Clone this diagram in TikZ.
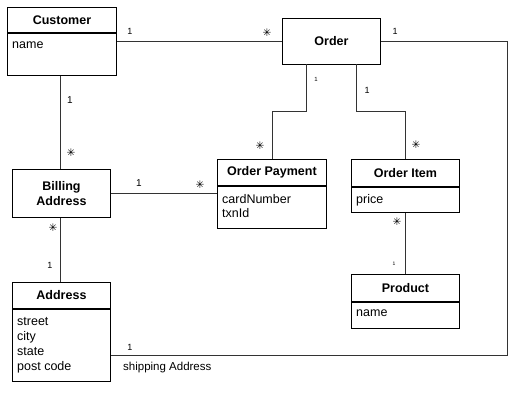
\documentclass[tikz,border=0pt]{standalone}
\usepackage{fontspec}
\setmainfont{Liberation Sans}
\newfontfamily\symfont{DejaVu Sans}
\begin{document}
\begin{tikzpicture}[x=1pt,y=-1pt,
  box/.style={draw=black,line width=0.9pt,fill=white,inner sep=0pt,anchor=north west},
  ttl/.style={box,font=\fontsize{12.5}{15}\selectfont\bfseries,align=center},
  attr/.style={anchor=north west,inner sep=0pt,align=left,font=\fontsize{12.5}{14.8}\selectfont},
  conn/.style={draw=black!80,line width=0.9pt},
  one/.style={font=\fontsize{9}{10}\selectfont,inner sep=0pt},
  many/.style={font=\symfont\fontsize{10.5}{11}\selectfont,inner sep=0pt},
  lbl/.style={font=\fontsize{11.5}{13}\selectfont,inner sep=0pt,anchor=west}]
\useasboundingbox (0,0) rectangle (517,400);
% Customer
\node[ttl,minimum width=109,minimum height=25] (cust) at (7,7) {Customer};
\node[box,minimum width=109,minimum height=42] (custa) at (cust.south west) {};
\node[attr] (custt) at ([shift={(5,8.5)}]custa.north west) {name};
% Order
\node[ttl,minimum width=98,minimum height=46] (order) at (282,17.5) {Order};
% Billing Address
\node[ttl,minimum width=98,minimum height=48] (bill) at (12,169) {Billing\\Address};
% Order Payment
\node[ttl,minimum width=109,minimum height=26] (pay) at (217,159) {Order Payment};
\node[box,minimum width=109,minimum height=42] (paya) at (pay.south west) {};
\node[attr] (payt) at ([shift={(5,8)}]paya.north west) {cardNumber\\txnId};
% Order Item
\node[ttl,minimum width=108,minimum height=27] (item) at (351,159) {Order Item};
\node[box,minimum width=108,minimum height=25] (itema) at (item.south west) {};
\node[attr] (itemt) at ([shift={(5,7.5)}]itema.north west) {price};
% Address
\node[ttl,minimum width=98,minimum height=26] (addr) at (12,282) {Address};
\node[box,minimum width=98,minimum height=72] (addra) at (addr.south west) {};
\node[attr] (addrt) at ([shift={(5,8.5)}]addra.north west) {street\\city\\state\\post code};
% Product
\node[ttl,minimum width=108,minimum height=27] (prod) at (351,274) {Product};
\node[box,minimum width=108,minimum height=26] (proda) at (prod.south west) {};
\node[attr] (prodt) at ([shift={(5,7.5)}]proda.north west) {name};
% connectors
\coordinate (c0) at (507,355);
\coordinate (c1) at (order.east -| c0);
\draw[conn] (order.west) -- (order.west -| custa.east);
\draw[conn] ([xshift=-1.5]custa.south) -- ([xshift=-1]bill.north);
\draw[conn] ([xshift=-1]bill.south) -- ([xshift=-1]addr.north);
\draw[conn] (bill.east) -- (bill.east -| paya.west);
\draw[conn] ([xshift=-25]order.south) -- ++(0,47) -| (pay.north);
\draw[conn] ([xshift=25]order.south) -- ++(0,47) -| (item.north);
\draw[conn] (itema.south) -- (prod.north);
\draw[conn] (order.east) -- (c1) -- (c0) -- (c0 -| addra.east);
% multiplicities
\node[one] (m1) at (130,31) {1};
\node[many] (m2) at (267,33) {✳};
\node[one] (m3) at (395,31) {1};
\node[one,font=\fontsize{6}{7}\selectfont] (m4) at (316,79) {1};
\node[one] (m5) at (367,90) {1};
\node[many] (m6) at (260,146) {✳};
\node[many] (m7) at (416,145) {✳};
\node[one,font=\fontsize{10}{11}\selectfont] (m8) at (70,100) {1};
\node[many] (m9) at (71,153) {✳};
\node[one,font=\fontsize{10}{11}\selectfont] (m10) at (139,183) {1};
\node[many] (m11) at (200,185) {✳};
\node[many] (m12) at (53,228) {✳};
\node[one] (m13) at (50,265) {1};
\node[many] (m14) at (397,222) {✳};
\node[one,font=\fontsize{5}{6}\selectfont] (m15) at (394,264) {1};
\node[one] (m16) at (130,347) {1};
\node[lbl] (ship) at (123,368) {shipping Address};
\end{tikzpicture}
\end{document}
